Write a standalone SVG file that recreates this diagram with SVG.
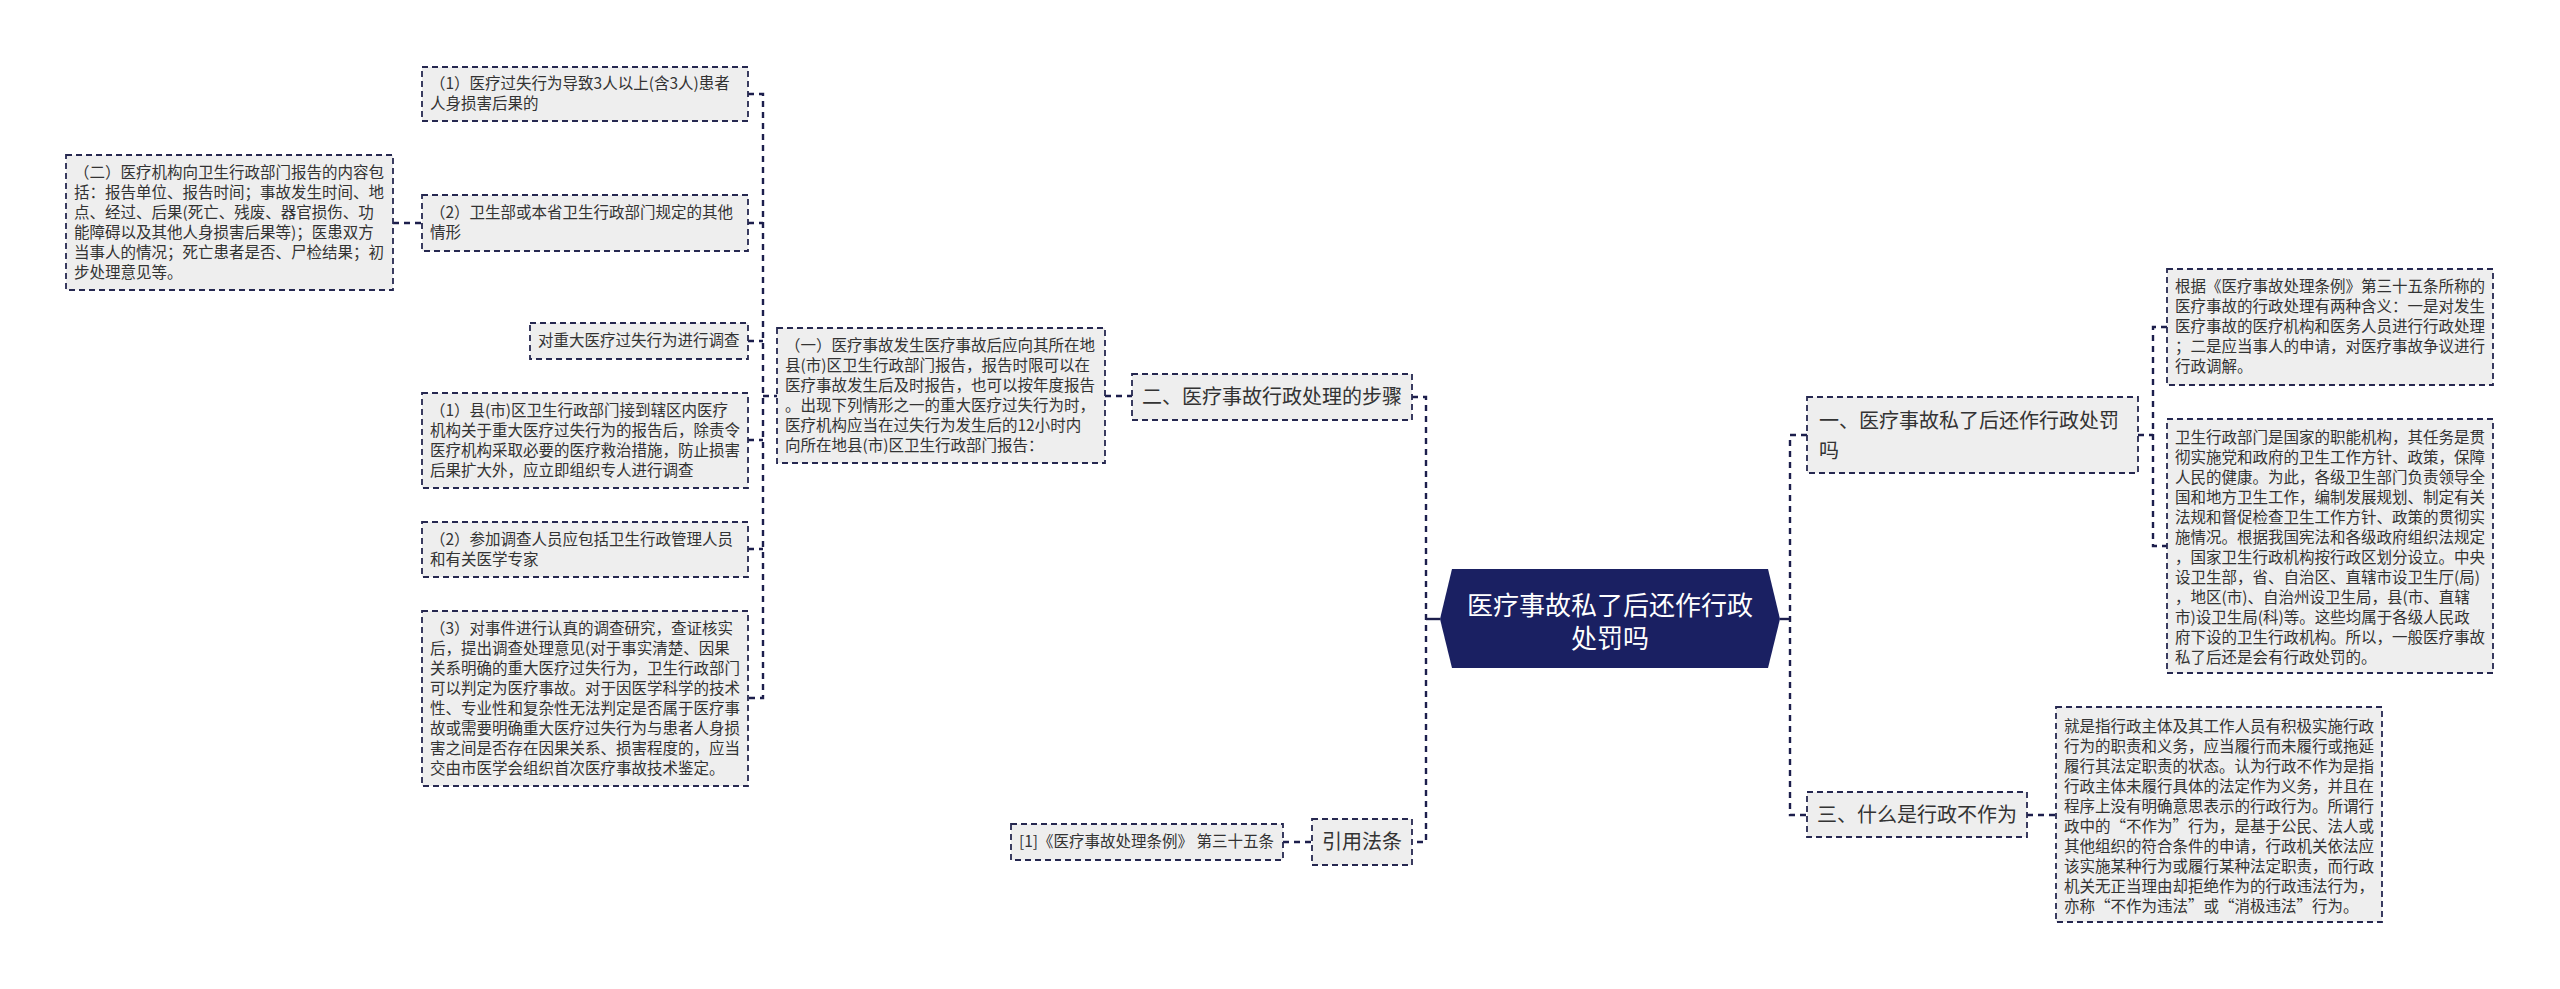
<svg xmlns="http://www.w3.org/2000/svg" width="2560" height="989" viewBox="0 0 2560 989">
<style>
.box{fill:#eeeeee;stroke:#262850;stroke-width:1.8;stroke-dasharray:6 4}
.t{font-family:"Microsoft YaHei","Noto Sans CJK SC",sans-serif;font-size:15.5px;fill:#333333}
.m{font-family:"Microsoft YaHei","Noto Sans CJK SC",sans-serif;font-size:20px;fill:#333333}
.c{font-family:"Microsoft YaHei","Noto Sans CJK SC",sans-serif;font-size:26px;fill:#ffffff;text-anchor:middle}
.ln{fill:none;stroke:#1c1e4c;stroke-width:2.4;stroke-dasharray:6 5}
</style>
<rect width="2560" height="989" fill="#ffffff"/>
<g id="connectors">
<path d="M1440,619 H1426" fill="none" stroke="#1c1e4c" stroke-width="2.4"/>
<path class="ln" d="M1412,397 H1426 V842 H1412"/>
<path class="ln" d="M1105,396 H1132"/>
<path class="ln" d="M748,94 H763 V698 H748"/>
<path class="ln" d="M748,223 H763"/>
<path class="ln" d="M748,341 H763"/>
<path class="ln" d="M748,440 H763"/>
<path class="ln" d="M748,549 H763"/>
<path class="ln" d="M763,396 H777"/>
<path class="ln" d="M393,223 H422"/>
<path class="ln" d="M1283,842 H1312"/>
<path d="M1780,619 H1790" fill="none" stroke="#1c1e4c" stroke-width="2.4"/>
<path class="ln" d="M1807,435 H1790 V815 H1807"/>
<path class="ln" d="M2138,435 H2153"/>
<path class="ln" d="M2167,327 H2153 V546 H2167"/>
<path class="ln" d="M2027,815 H2056"/>
</g>
<g id="center">
<polygon points="1440,619 1452,569 1768,569 1780,619 1768,668 1452,668" fill="#1a2062"/>
<text class="c" x="1610" y="615">医疗事故私了后还作行政</text>
<text class="c" x="1610" y="648">处罚吗</text>
</g>
<g id="n-er">
<rect class="box" x="1132" y="374" width="280" height="46"/>
<text class="m" x="1142" y="404">二、医疗事故行政处理的步骤</text>
</g>
<g id="n-yi-a">
<rect class="box" x="777" y="328" width="328" height="135"/>
<text class="t" x="785" y="351">（一）医疗事故发生医疗事故后应向其所在地</text>
<text class="t" x="785" y="371">县(市)区卫生行政部门报告，报告时限可以在</text>
<text class="t" x="785" y="391">医疗事故发生后及时报告，也可以按年度报告</text>
<text class="t" x="785" y="411">。出现下列情形之一的重大医疗过失行为时，</text>
<text class="t" x="785" y="431">医疗机构应当在过失行为发生后的12小时内</text>
<text class="t" x="785" y="451">向所在地县(市)区卫生行政部门报告：</text>
</g>
<g id="n-1a">
<rect class="box" x="422" y="67" width="326" height="54"/>
<text class="t" x="430" y="89">（1）医疗过失行为导致3人以上(含3人)患者</text>
<text class="t" x="430" y="109">人身损害后果的</text>
</g>
<g id="n-2a">
<rect class="box" x="422" y="195" width="326" height="56"/>
<text class="t" x="430" y="218">（2）卫生部或本省卫生行政部门规定的其他</text>
<text class="t" x="430" y="238">情形</text>
</g>
<g id="n-er-b">
<rect class="box" x="66" y="155" width="327" height="135"/>
<text class="t" x="74" y="178">（二）医疗机构向卫生行政部门报告的内容包</text>
<text class="t" x="74" y="198">括：报告单位、报告时间；事故发生时间、地</text>
<text class="t" x="74" y="218">点、经过、后果(死亡、残废、器官损伤、功</text>
<text class="t" x="74" y="238">能障碍以及其他人身损害后果等)；医患双方</text>
<text class="t" x="74" y="258">当事人的情况；死亡患者是否、尸检结果；初</text>
<text class="t" x="74" y="278">步处理意见等。</text>
</g>
<g id="n-diaocha">
<rect class="box" x="530" y="323" width="218" height="36"/>
<text class="t" x="538" y="346">对重大医疗过失行为进行调查</text>
</g>
<g id="n-1b">
<rect class="box" x="422" y="393" width="326" height="95"/>
<text class="t" x="430" y="416">（1）县(市)区卫生行政部门接到辖区内医疗</text>
<text class="t" x="430" y="436">机构关于重大医疗过失行为的报告后，除责令</text>
<text class="t" x="430" y="456">医疗机构采取必要的医疗救治措施，防止损害</text>
<text class="t" x="430" y="476">后果扩大外，应立即组织专人进行调查</text>
</g>
<g id="n-2b">
<rect class="box" x="422" y="522" width="326" height="55"/>
<text class="t" x="430" y="545">（2）参加调查人员应包括卫生行政管理人员</text>
<text class="t" x="430" y="565">和有关医学专家</text>
</g>
<g id="n-3b">
<rect class="box" x="422" y="611" width="326" height="175"/>
<text class="t" x="430" y="634">（3）对事件进行认真的调查研究，查证核实</text>
<text class="t" x="430" y="654">后，提出调查处理意见(对于事实清楚、因果</text>
<text class="t" x="430" y="674">关系明确的重大医疗过失行为，卫生行政部门</text>
<text class="t" x="430" y="694">可以判定为医疗事故。对于因医学科学的技术</text>
<text class="t" x="430" y="714">性、专业性和复杂性无法判定是否属于医疗事</text>
<text class="t" x="430" y="734">故或需要明确重大医疗过失行为与患者人身损</text>
<text class="t" x="430" y="754">害之间是否存在因果关系、损害程度的，应当</text>
<text class="t" x="430" y="774">交由市医学会组织首次医疗事故技术鉴定。</text>
</g>
<g id="n-yinyong">
<rect class="box" x="1312" y="819" width="100" height="46"/>
<text class="m" x="1322" y="849">引用法条</text>
</g>
<g id="n-ref">
<rect class="box" x="1011" y="824" width="272" height="36"/>
<text class="t" x="1019" y="847">[1]《医疗事故处理条例》 第三十五条</text>
</g>
<g id="n-yi">
<rect class="box" x="1807" y="397" width="331" height="76"/>
<text class="m" x="1819" y="428">一、医疗事故私了后还作行政处罚</text>
<text class="m" x="1819" y="458">吗</text>
</g>
<g id="n-genju">
<rect class="box" x="2167" y="269" width="326" height="116"/>
<text class="t" x="2175" y="292">根据《医疗事故处理条例》第三十五条所称的</text>
<text class="t" x="2175" y="312">医疗事故的行政处理有两种含义：一是对发生</text>
<text class="t" x="2175" y="332">医疗事故的医疗机构和医务人员进行行政处理</text>
<text class="t" x="2175" y="352">；二是应当事人的申请，对医疗事故争议进行</text>
<text class="t" x="2175" y="372">行政调解。</text>
</g>
<g id="n-weisheng">
<rect class="box" x="2167" y="419" width="326" height="254"/>
<text class="t" x="2175" y="443">卫生行政部门是国家的职能机构，其任务是贯</text>
<text class="t" x="2175" y="463">彻实施党和政府的卫生工作方针、政策，保障</text>
<text class="t" x="2175" y="483">人民的健康。为此，各级卫生部门负责领导全</text>
<text class="t" x="2175" y="503">国和地方卫生工作，编制发展规划、制定有关</text>
<text class="t" x="2175" y="523">法规和督促检查卫生工作方针、政策的贯彻实</text>
<text class="t" x="2175" y="543">施情况。根据我国宪法和各级政府组织法规定</text>
<text class="t" x="2175" y="563">，国家卫生行政机构按行政区划分设立。中央</text>
<text class="t" x="2175" y="583">设卫生部，省、自治区、直辖市设卫生厅(局)</text>
<text class="t" x="2175" y="603">，地区(市)、自治州设卫生局，县(市、直辖</text>
<text class="t" x="2175" y="623">市)设卫生局(科)等。这些均属于各级人民政</text>
<text class="t" x="2175" y="643">府下设的卫生行政机构。所以，一般医疗事故</text>
<text class="t" x="2175" y="663">私了后还是会有行政处罚的。</text>
</g>
<g id="n-san">
<rect class="box" x="1807" y="792" width="220" height="45"/>
<text class="m" x="1817" y="822">三、什么是行政不作为</text>
</g>
<g id="n-jiushi">
<rect class="box" x="2056" y="707" width="326" height="215"/>
<text class="t" x="2064" y="732">就是指行政主体及其工作人员有积极实施行政</text>
<text class="t" x="2064" y="752">行为的职责和义务，应当履行而未履行或拖延</text>
<text class="t" x="2064" y="772">履行其法定职责的状态。认为行政不作为是指</text>
<text class="t" x="2064" y="792">行政主体未履行具体的法定作为义务，并且在</text>
<text class="t" x="2064" y="812">程序上没有明确意思表示的行政行为。所谓行</text>
<text class="t" x="2064" y="832">政中的“不作为”行为，是基于公民、法人或</text>
<text class="t" x="2064" y="852">其他组织的符合条件的申请，行政机关依法应</text>
<text class="t" x="2064" y="872">该实施某种行为或履行某种法定职责，而行政</text>
<text class="t" x="2064" y="892">机关无正当理由却拒绝作为的行政违法行为，</text>
<text class="t" x="2064" y="912">亦称“不作为违法”或“消极违法”行为。</text>
</g>
</svg>
